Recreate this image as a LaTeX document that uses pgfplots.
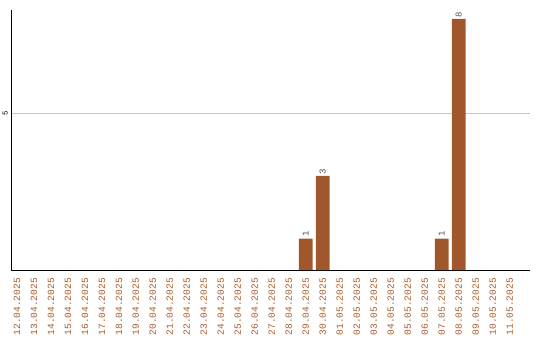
\documentclass[border=0pt]{standalone}
\usepackage{pgfplots}
\pgfplotsset{compat=1.18}
\usepackage{fontspec}
\setmainfont{Liberation Sans}
\newfontfamily\monofont{Liberation Mono}
\definecolor{barbrown}{RGB}{160,87,43}
\definecolor{datebrown}{RGB}{170,90,40}
\definecolor{gridgray}{RGB}{200,200,200}
\definecolor{valgray}{RGB}{80,80,80}
\begin{document}
\begin{tikzpicture}
\begin{axis}[
  at={(0,0)}, anchor=south west,
  scale only axis,
  width=519bp, height=260bp,
  xmin=-0.35, xmax=30.2,
  ymin=0, ymax=8.28,
  axis x line*=bottom,
  axis y line*=left,
  axis line style={black, line width=0.8pt},
  xtick={0,...,29},
  xticklabels={12.04.2025,13.04.2025,14.04.2025,15.04.2025,16.04.2025,17.04.2025,18.04.2025,19.04.2025,20.04.2025,21.04.2025,22.04.2025,23.04.2025,24.04.2025,25.04.2025,26.04.2025,27.04.2025,28.04.2025,29.04.2025,30.04.2025,01.05.2025,02.05.2025,03.05.2025,04.05.2025,05.05.2025,06.05.2025,07.05.2025,08.05.2025,09.05.2025,10.05.2025,11.05.2025},
  xticklabel style={rotate=90, anchor=east, font=\monofont\fontsize{9.5bp}{10bp}\selectfont, text=datebrown, inner sep=0pt},
  xticklabel shift=8bp,
  ytick={5},
  yticklabel style={rotate=90, anchor=south, font=\monofont\fontsize{7.5bp}{8bp}\selectfont, inner sep=0pt},
  yticklabel shift=3bp,
  ymajorgrids,
  grid style={gridgray, line width=0.6pt},
  major tick length=0pt,
  /pgf/number format/assume math mode=true,
  ybar, bar width=13.7bp, bar shift=0pt,
  nodes near coords,
  every node near coord/.append style={rotate=90, anchor=west, font=\monofont\fontsize{9bp}{10bp}\selectfont, text=valgray, inner sep=1.5bp},
  clip=false,
]
\addplot[fill=barbrown, draw=none] coordinates {(17,1) (18,3) (25,1) (26,8)};
\end{axis}
\path[use as bounding box] (-11bp,-70bp) rectangle (529bp,270bp);
\end{tikzpicture}
\end{document}
